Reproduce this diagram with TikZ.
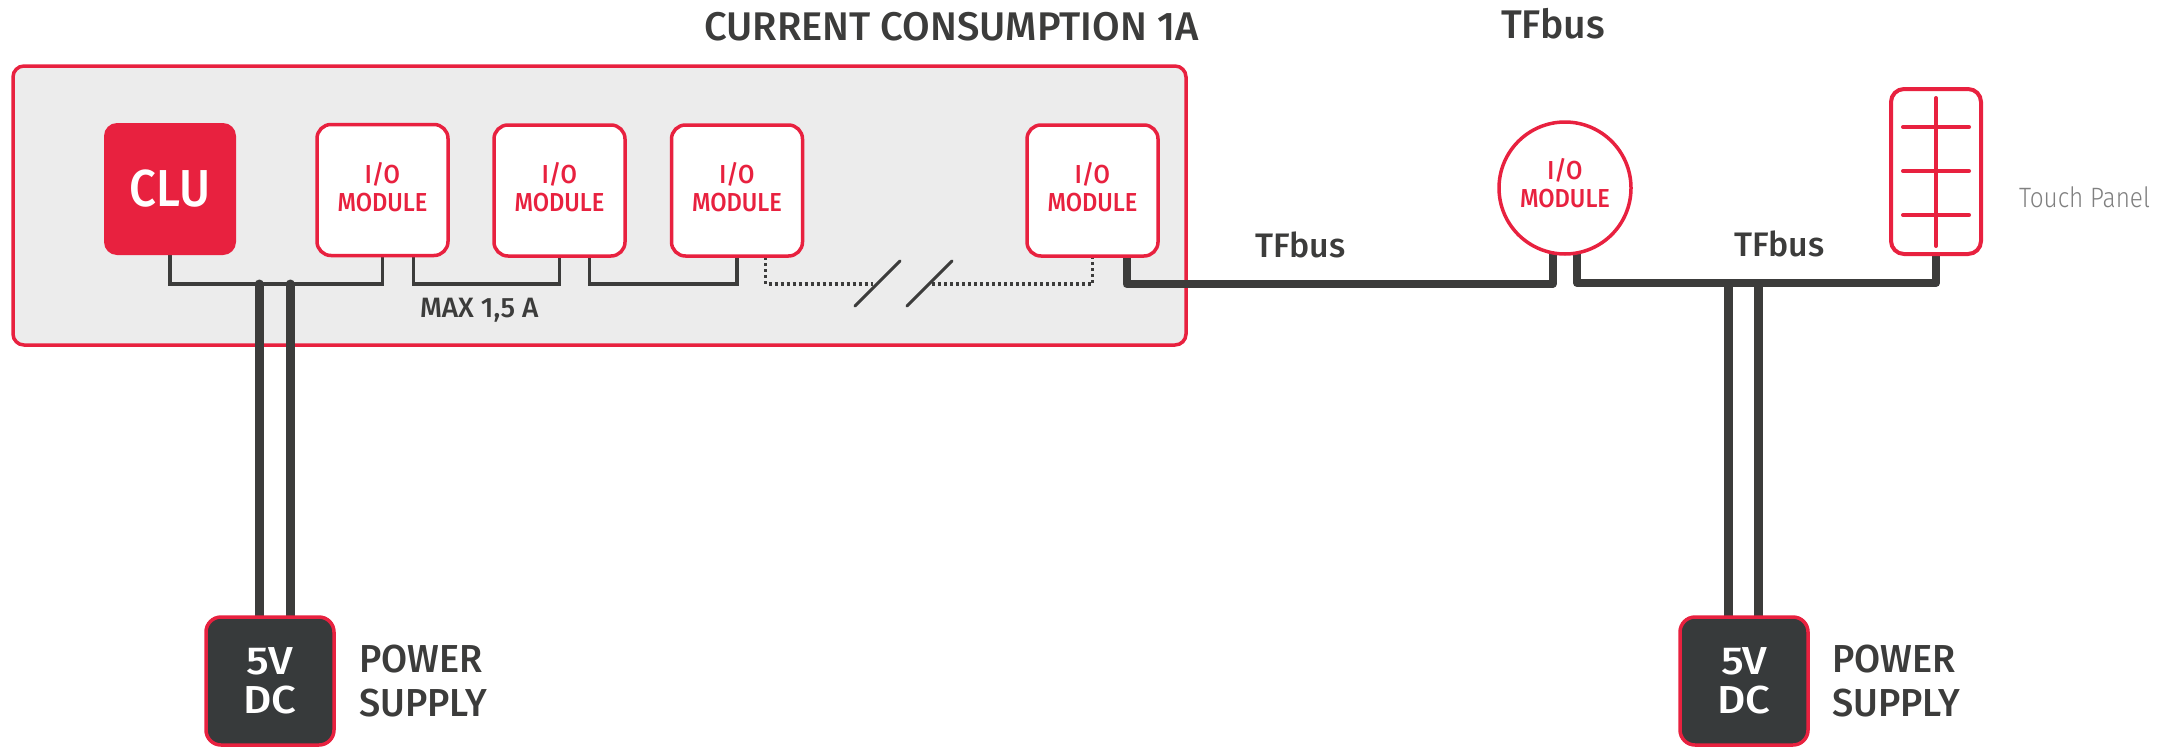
\documentclass[tikz,border=0pt]{standalone}
\usepackage{fontspec}
\setmainfont{Fira Sans}
\newfontfamily\medf{Fira Sans Medium}
\newfontfamily\medn[FakeStretch=0.91]{Fira Sans Medium}
\newfontfamily\medt[FakeStretch=0.97]{Fira Sans Medium}
\newfontfamily\medb[FakeStretch=0.98]{Fira Sans Medium}
\newfontfamily\medw[FakeStretch=1.12]{Fira Sans Medium}
\newfontfamily\lightf[FakeStretch=0.87]{Fira Sans Light}
\usetikzlibrary{calc}
\pgfdeclarelayer{paneldeck}
\pgfdeclarelayer{wiredeck}
\pgfsetlayers{paneldeck,wiredeck,main}
\definecolor{gred}{HTML}{E8213F}
\definecolor{gdark}{HTML}{3C3C3B}
\definecolor{gbox}{HTML}{373A3B}
\definecolor{gfill}{HTML}{ECECEC}
\tikzset{
  every node/.style={outer sep=0pt,inner sep=0pt},
  panel/.style={draw=gred,line width=3.5pt,fill=gfill,rounded corners=11pt,minimum width=1173pt,minimum height=279pt},
  clubox/.style={fill=gred,rounded corners=13pt,minimum width=132pt,minimum height=132pt},
  iobox/.style={draw=gred,line width=3.5pt,fill=white,rounded corners=14pt,minimum width=131pt,minimum height=131pt,label={[iolabel]center:{I/O\\MODULE}}},
  iocircle/.style={draw=gred,line width=3.5pt,fill=white,circle,minimum size=132pt,label={[iolabel,yshift=1.5pt]center:{I/O\\MODULE}}},
  iolabel/.style={align=center,text=gred,yshift=3pt,font=\medn\fontsize{26}{28}\selectfont},
  supply/.style={draw=gred,line width=3.5pt,fill=gbox,text=white,rounded corners=15pt,minimum width=128pt,minimum height=128pt,align=center,font=\medw\fontsize{39}{39}\selectfont},
  touch/.style={draw=gred,line width=4pt,fill=white,rounded corners=13pt,minimum width=90pt,minimum height=165pt},
  thinwire/.style={draw=gdark,line width=3.2pt},
  dotwire/.style={draw=gdark,line width=3.4pt,dash pattern=on 3pt off 3pt},
  slashwire/.style={draw=gdark,line width=3pt,line cap=round},
  thickwire/.style={draw=gdark,line width=8pt,line join=round},
  powerwire/.style={draw=gdark,line width=9pt},
  redbar/.style={draw=gred,line width=4pt,line cap=round},
  heading/.style={anchor=base west,text=gdark,font=\medf\fontsize{40}{40}\selectfont},
  buslabel/.style={anchor=base west,text=gdark,font=\medf\fontsize{34}{34}\selectfont},
  supplytext/.style={anchor=west,align=left,text=gdark,font=\medt\fontsize{39}{44}\selectfont},
}
\begin{document}
\begin{tikzpicture}[x=1pt,y=-1pt]
\useasboundingbox (0,0) rectangle (2175,747);
\begin{pgfonlayer}{paneldeck}
\node[panel] (panel) at (599.5,205.5) {};
\end{pgfonlayer}
\node[clubox,text=white,font=\medn\fontsize{52}{52}\selectfont] (clu) at (170,189) {CLU};
\node[iobox] (io1) at (382.5,190) {};
\node[iobox] (io2) at (559.5,190.5) {};
\node[iobox] (io3) at (737,190.5) {};
\node[iobox] (io4) at (1092.5,190.5) {};
\node[iocircle] (io5) at (1565,188) {};
\node[touch] (tp) at (1936,171.5) {};
\node[supply] (ps1) at (270,681) {5V\\DC};
\node[supply] (ps2) at (1744,681) {5V\\DC};

\coordinate (b2) at (413.5,257);
\coordinate (b3) at (589.5,257);
\coordinate (d1) at (765.5,257);
\coordinate (d2) at (873,284);
\coordinate (d3) at (932,284);
\coordinate (s1a) at (855,306);
\coordinate (s1b) at (900,261);
\coordinate (s2a) at (907,306);
\coordinate (s2b) at (952,261);
\coordinate (t1) at (1126.5,257);
\coordinate (t2) at (1552.5,254);
\coordinate (t3) at (1577,254);
\coordinate (p1) at (259,284);
\coordinate (p2) at (290,284);
\coordinate (p3) at (1728,283);
\coordinate (p4) at (1758,283);

\begin{pgfonlayer}{wiredeck}
\draw[thinwire] (clu.south) -- ++(0,29) -| (io1.south);
\draw[thinwire] (b2) -- ++(0,27) -| (io2.south);
\draw[thinwire] (b3) -- ++(0,27) -| (io3.south);
\draw[dotwire] (d1) |- (d2);
\draw[dotwire] (io4.south) |- (d3);
\draw[slashwire] (s1a) -- (s1b);
\draw[slashwire] (s2a) -- (s2b);
\draw[thickwire] (t1) -- ++(0,27) -| (t2);
\draw[thickwire] (t3) -- ++(0,29) -| (tp.south);
\draw[powerwire,line cap=round] (p1) -- (p1 |- ps1.north);
\draw[powerwire,line cap=round] (p2) -- (p2 |- ps1.north);
\draw[powerwire] (p3) -- (p3 |- ps2.north);
\draw[powerwire] (p4) -- (p4 |- ps2.north);
\end{pgfonlayer}
\draw[redbar] (1936,98) -- (1936,246);
\draw[redbar] (1903,127) -- (1969,127);
\draw[redbar] (1903,171) -- (1969,171);
\draw[redbar] (1903,215) -- (1969,215);

\node[heading] (title) at (704,40) {CURRENT CONSUMPTION 1A};
\node[anchor=base west,text=gdark,font=\medb\fontsize{40}{40}\selectfont] (tf0) at (1501,38) {TFbus};
\node[buslabel] (tf1) at (1255,257) {TFbus};
\node[buslabel] (tf2) at (1734,256) {TFbus};
\node[anchor=base west,text=gdark,font=\medf\fontsize{28}{28}\selectfont] (max) at (420,317) {MAX 1,5 A};
\node[anchor=base west,text=gray,font=\lightf\fontsize{28}{28}\selectfont] (tpl) at (2019,207) {Touch Panel};
\node[supplytext] (st1) at (359,681) {POWER\\SUPPLY};
\node[supplytext] (st2) at (1832,681) {POWER\\SUPPLY};
\end{tikzpicture}
\end{document}
